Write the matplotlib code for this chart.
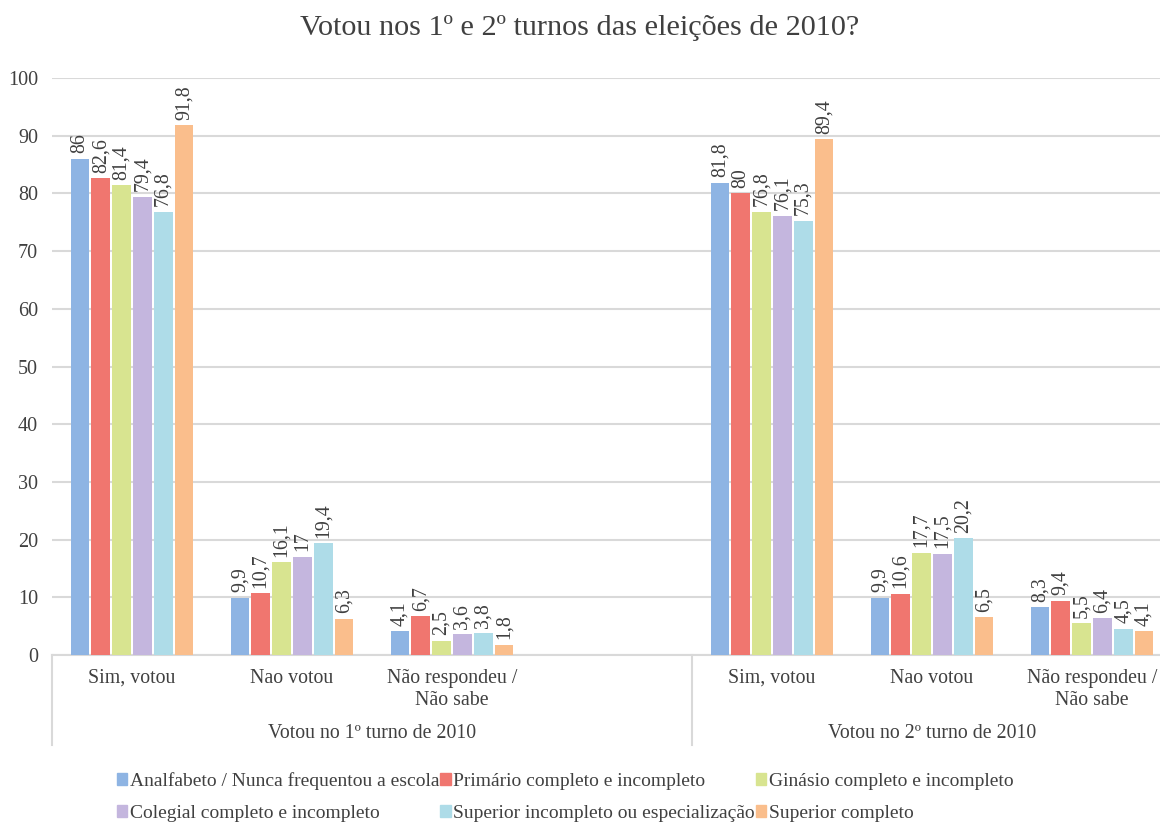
import numpy as np
import matplotlib
matplotlib.use("Agg")
import matplotlib.pyplot as plt
import matplotlib.transforms as mtransforms

plt.rcParams['font.family'] = ['Liberation Serif', 'DejaVu Serif']

title = "Votou nos 1º e 2º turnos das eleições de 2010?"
categories = ["Sim, votou", "Nao votou", "Não respondeu /\nNão sabe"]
groups = ["Votou no 1º turno de 2010", "Votou no 2º turno de 2010"]
series = ["Analfabeto / Nunca frequentou a escola",
          "Primário completo e incompleto",
          "Ginásio completo e incompleto",
          "Colegial completo e incompleto",
          "Superior incompleto ou especialização",
          "Superior completo"]
# values per series: [T1 Sim, T1 Nao, T1 NR, T2 Sim, T2 Nao, T2 NR]
analfabeto = [86, 9.9, 4.1, 81.8, 9.9, 8.3]
primario = [82.6, 10.7, 6.7, 80, 10.6, 9.4]
ginasio = [81.4, 16.1, 2.5, 76.8, 17.7, 5.5]
colegial = [79.4, 17, 3.6, 76.1, 17.5, 6.4]
sup_incompleto = [76.8, 19.4, 3.8, 75.3, 20.2, 4.5]
sup_completo = [91.8, 6.3, 1.8, 89.4, 6.5, 4.1]
data = [analfabeto, primario, ginasio, colegial, sup_incompleto, sup_completo]
colors = ["#8EB4E3", "#F0766F", "#D8E490", "#C4B6DE", "#AEDCE8", "#FABE8C"]
yticks = [0, 10, 20, 30, 40, 50, 60, 70, 80, 90, 100]

text_color = "#404040"
grid_color = "#D9D9D9"

W, H = 1160, 822
fig = plt.figure(figsize=(W / 100, H / 100), dpi=100)
left_px, right_px = 52, 1172
bottom_px, top_px = 655, 78
ax = fig.add_axes([left_px / W, 1 - bottom_px / H, (right_px - left_px) / W, (bottom_px - top_px) / H])

# slot positions: group 1 uses slots 0-2, slot 3 empty, group 2 uses slots 4-6
slots = [0, 1, 2, 4, 5, 6]
centers = np.array(slots) + 0.5
n = len(series)
pitch = 0.13
width = 0.118
for i, (vals, c) in enumerate(zip(data, colors)):
    xs = centers + (i - (n - 1) / 2) * pitch
    bars = ax.bar(xs, vals, width=width, color=c, zorder=3)
    for b, v in zip(bars, vals):
        lab = f"{v:g}".replace(".", ",")
        ax.annotate(lab, (b.get_x() + b.get_width() / 2, v), xytext=(0, 4),
                    textcoords="offset points", rotation=90, ha="center", va="bottom",
                    fontsize=14.3, color=text_color)

ax.set_xlim(0, 7)
ax.set_ylim(0, 100)
ax.set_yticks(yticks)
ax.set_yticklabels([str(t) for t in yticks], fontsize=14.5, color=text_color)
ax.yaxis.grid(True, color=grid_color, linewidth=1.5, zorder=0)
ax.tick_params(axis='y', length=0, pad=10)
ax.set_xticks(centers)
ax.set_xticklabels(categories * 2, fontsize=14.3, color=text_color, linespacing=1.2)
ax.tick_params(axis='x', length=0, pad=10)
for s in ["left", "right", "top"]:
    ax.spines[s].set_visible(False)
ax.spines["bottom"].set_color(grid_color)
ax.spines["bottom"].set_linewidth(1.5)

# group separators and labels
trans = mtransforms.blended_transform_factory(ax.transData, ax.transAxes)
sep_bottom = -(745 - 655) / (bottom_px - top_px)
for xsep in [0, 4, 7]:
    ax.plot([xsep, xsep], [0, sep_bottom], transform=trans, color=grid_color,
            linewidth=1.5, clip_on=False)
glab_y = -(733 - 655) / (bottom_px - top_px)
for gx, g in zip([2, 5.5], groups):
    ax.text(gx, glab_y, g, transform=trans, ha="center", va="center",
            fontsize=14.3, color=text_color)

fig.text(0.5, 1 - 28 / H, title, ha="center", va="center", fontsize=21.8, color=text_color)

# legend, column-major ordering for 3 columns
handles = [plt.Rectangle((0, 0), 1, 1, color=c) for c in colors]
order = [0, 3, 1, 4, 2, 5]
leg = fig.legend([handles[i] for i in order], [series[i] for i in order],
                 ncol=3, loc="center", bbox_to_anchor=(0.487, 1 - 797 / H),
                 frameon=False, fontsize=14, handlelength=0.55, handleheight=0.55,
                 handletextpad=0.12, columnspacing=0.05, labelspacing=0.8)
for t in leg.get_texts():
    t.set_color(text_color)

fig.savefig("out.png", dpi=100)
